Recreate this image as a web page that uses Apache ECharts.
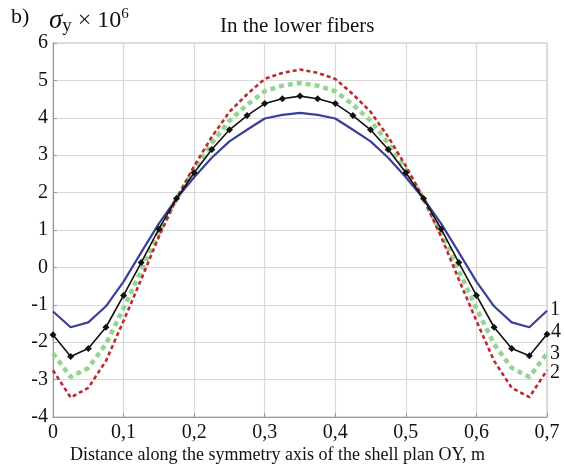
<!DOCTYPE html>
<html><head><meta charset="utf-8">
<script src="https://cdn.jsdelivr.net/npm/echarts@6/dist/echarts.min.js"></script>
<style>html,body{margin:0;padding:0;background:#fff}#c{width:565px;height:471px}</style>
</head><body><div id="c"></div>
<script>
const xs = [0,0.025,0.05,0.075,0.1,0.125,0.15,0.175,0.2,0.225,0.25,0.275,0.3,0.325,0.35,0.375,0.4,0.425,0.45,0.475,0.5,0.525,0.55,0.575,0.6,0.625,0.65,0.675,0.7];
const curve1 = [-1.18,-1.60,-1.47,-1.04,-0.38,0.40,1.17,1.84,2.41,2.93,3.37,3.68,3.98,4.08,4.13,4.08,3.98,3.68,3.37,2.93,2.41,1.84,1.17,0.40,-0.38,-1.04,-1.47,-1.60,-1.16];
const curve2 = [-2.75,-3.48,-3.22,-2.50,-1.43,-0.32,0.82,1.84,2.71,3.49,4.16,4.63,5.04,5.20,5.29,5.20,5.04,4.63,4.16,3.49,2.71,1.84,0.82,-0.32,-1.43,-2.50,-3.22,-3.47,-2.75];
const curve3 = [-2.30,-2.93,-2.69,-2.05,-1.09,-0.09,0.92,1.84,2.62,3.32,3.92,4.35,4.71,4.86,4.93,4.86,4.71,4.35,3.92,3.32,2.62,1.84,0.92,-0.09,-1.09,-2.05,-2.69,-2.93,-2.30];
const curve4 = [-1.80,-2.38,-2.17,-1.60,-0.75,0.13,1.03,1.84,2.53,3.15,3.68,4.06,4.38,4.51,4.58,4.51,4.38,4.06,3.68,3.15,2.53,1.84,1.03,0.13,-0.75,-1.60,-2.17,-2.36,-1.79];
const curveNames = ['1','2','3','4'];
const titleText = 'In the lower fibers';
const xName = 'Distance along the symmetry axis of the shell plan OY, m';
const panelTag = 'b)';

const pair = a => a.map((v,i)=>[xs[i], v]);
const serif = '"Liberation Serif", "DejaVu Serif", serif';
const chart = echarts.init(document.getElementById('c'));
function mk(name, data, color, width, type, z, offset, extra){
  return Object.assign({
    name, type:'line', data:pair(data), z,
    showSymbol:false, symbol:'none', smooth:false,
    lineStyle:{color, width, type},
    itemStyle:{color},
    endLabel:{show:true, formatter:name, fontFamily:serif, fontSize:20, color:'#111', offset},
    animation:false
  }, extra||{});
}
chart.setOption({
  animation:false,
  grid:{left:53, right:18, top:43, bottom:54, show:true, borderColor:'#bbb', borderWidth:1},
  title:{text:titleText, left:215, top:11, textStyle:{fontFamily:serif, fontSize:21, fontWeight:'normal', color:'#111'}},
  graphic:[
    {type:'text', left:11, top:6, style:{text:panelTag, font:'22px '+serif, fill:'#111'}},
    {type:'text', left:49, top:7, style:{
      text:'{s|σ}{sub|y}{n| × 10}{sup|6}',
      rich:{
        s:{fontFamily:serif, fontStyle:'italic', fontSize:27, fill:'#111'},
        sub:{fontFamily:serif, fontSize:19, fill:'#111', padding:[12,0,0,0]},
        n:{fontFamily:serif, fontSize:24, fill:'#111'},
        sup:{fontFamily:serif, fontSize:15, fill:'#111', padding:[0,0,12,0]}
      }}},
    {type:'text', left:70, top:446, style:{text:xName, font:'18px '+serif, fill:'#111'}}
  ],
  xAxis:{type:'value', min:0, max:0.7, interval:0.1,
    axisLine:{show:true, onZero:false, lineStyle:{color:'#999'}},
    axisTick:{show:true, inside:true, length:4, lineStyle:{color:'#999'}},
    splitLine:{show:true, lineStyle:{color:'#dcd8d8', width:1.2}},
    axisLabel:{fontFamily:serif, fontSize:20, color:'#111', margin:6,
      formatter:v=>String(Math.round(v*10)/10).replace('.',',')}
  },
  yAxis:{type:'value', min:-4, max:6, interval:1,
    axisLine:{show:true, onZero:false, lineStyle:{color:'#999'}},
    axisTick:{show:true, inside:true, length:4, lineStyle:{color:'#999'}},
    splitLine:{show:true, lineStyle:{color:'#dcd8d8', width:1.2}},
    axisLabel:{fontFamily:serif, fontSize:20, color:'#111', margin:5}
  },
  series:[
    mk(curveNames[0], curve1, '#3b3f9c', 2.2, 'solid', 3, [-5,-1]),
    mk(curveNames[1], curve2, '#c0282d', 2.6, [4,3], 2, [-5,2]),
    mk(curveNames[2], curve3, '#93d493', 4.5, [5,4], 1, [-5,0]),
    mk(curveNames[3], curve4, '#111', 1.6, 'solid', 4, [-4,-3],
      {showSymbol:true, symbol:'diamond', symbolSize:7})
  ]
});
</script></body></html>
